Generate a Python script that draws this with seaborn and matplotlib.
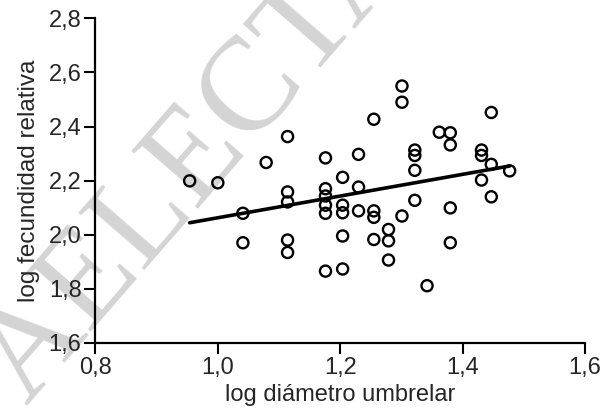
import numpy as np
import pandas as pd
import matplotlib
matplotlib.use("Agg")
import matplotlib.pyplot as plt
import seaborn as sns

# -----------------------------
# STYLE
# -----------------------------
sns.set_theme(style="ticks")
plt.rcParams["font.family"] = ["Liberation Sans", "DejaVu Sans"]

# -----------------------------
# DATA
# -----------------------------
log_diametro = [
    0.954, 1.000,
    1.041, 1.041,
    1.079,
    1.114, 1.114, 1.114, 1.114, 1.114,
    1.176, 1.176, 1.176, 1.176, 1.176, 1.176,
    1.204, 1.204, 1.204, 1.204, 1.204,
    1.230, 1.230, 1.230,
    1.255, 1.255, 1.255, 1.255,
    1.279, 1.279, 1.279,
    1.301, 1.301, 1.301,
    1.322, 1.322, 1.322, 1.322,
    1.342,
    1.362,
    1.380, 1.380, 1.380, 1.380,
    1.431, 1.431, 1.431,
    1.447, 1.447, 1.447,
    1.477,
]
log_fecundidad = [
    2.199, 2.192,
    2.079, 1.970,
    2.267,
    2.363, 2.158, 2.121, 1.980, 1.934,
    2.284, 2.170, 2.143, 2.109, 2.079, 1.865,
    2.212, 2.109, 2.081, 1.995, 1.873,
    2.297, 2.176, 2.088,
    2.427, 2.088, 2.064, 1.982,
    2.019, 1.977, 1.906,
    2.550, 2.490, 2.069,
    2.313, 2.293, 2.238, 2.127,
    1.811,
    2.379,
    2.377, 2.332, 2.099, 1.970,
    2.313, 2.293, 2.202,
    2.452, 2.260, 2.140,
    2.236,
]

# fitted line as printed (end points)
fit_x = [0.954, 1.477]
fit_y = [2.044, 2.254]

x_ticks = [0.8, 1.0, 1.2, 1.4, 1.6]
x_ticklabels = ["0,8", "1,0", "1,2", "1,4", "1,6"]
y_ticks = [1.6, 1.8, 2.0, 2.2, 2.4, 2.6, 2.8]
y_ticklabels = ["1,6", "1,8", "2,0", "2,2", "2,4", "2,6", "2,8"]

df = pd.DataFrame({"x": log_diametro, "y": log_fecundidad})

# -----------------------------
# PLOT
# -----------------------------
fig = plt.figure(figsize=(6.08, 4.19), dpi=100)
ax = fig.add_axes([0.157, 0.182, 0.805, 0.774])

# watermark (behind everything)
ax.text(0.325, 0.62, "AELECTA", transform=fig.transFigure, fontsize=96,
        family="Liberation Serif", color="#d4d4d4", rotation=49,
        ha="center", va="center", zorder=0, clip_on=False)

sns.scatterplot(data=df, x="x", y="y", ax=ax, marker="o", s=64,
                facecolor="none", edgecolor="black", linewidth=1.7, zorder=3)
sns.lineplot(x=fit_x, y=fit_y, ax=ax, color="black", linewidth=2.6, zorder=4)

ax.set_xlim(0.8, 1.6)
ax.set_ylim(1.6, 2.8)
ax.set_xticks(x_ticks)
ax.set_xticklabels(x_ticklabels)
ax.set_yticks(y_ticks)
ax.set_yticklabels(y_ticklabels)
ax.tick_params(labelsize=17, length=8, width=1.5, color="black", pad=2)

ax.set_xlabel("log diámetro umbrelar", fontsize=17, labelpad=4)
ax.set_ylabel("log fecundidad relativa", fontsize=17.5, labelpad=6)

for side in ["left", "bottom"]:
    ax.spines[side].set_linewidth(1.6)
    ax.spines[side].set_color("black")
sns.despine(ax=ax)

plt.savefig("out.png", dpi=100)
